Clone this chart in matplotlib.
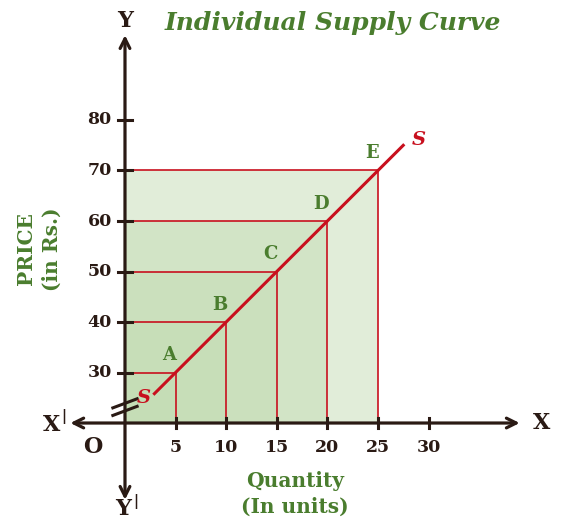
import matplotlib
matplotlib.use("Agg")
import matplotlib.pyplot as plt

# ---- data ----
points = ["A", "B", "C", "D", "E"]
quantity = [5, 10, 15, 20, 25]
price = [30, 40, 50, 60, 70]
supply_q = [2.8, 5, 10, 15, 20, 25, 27.6]
supply_p = [25.6, 30, 40, 50, 60, 70, 75.2]
x_ticks = [5, 10, 15, 20, 25, 30]
y_ticks = [30, 40, 50, 60, 70, 80]
y_origin = 20

GREEN = "#4a7d2e"
RED = "#c8101e"
DARK = "#2a1a14"
FILL = "#c5ddb5"
SERIF = "DejaVu Serif"

fig = plt.figure(figsize=(5.62, 5.32), dpi=100)
ax = fig.add_axes([0, 0, 1, 1])
ax.set_xlim(-12.35, 43.18)
ax.set_ylim(-1.58, 103.76)
ax.axis("off")

# shaded rectangles
for q, p in zip(quantity, price):
    ax.fill_between([0, q], y_origin, p, color=FILL, alpha=0.5, lw=0, zorder=1)

# guide lines
for q, p in zip(quantity, price):
    ax.plot([0, q], [p, p], color=RED, lw=1.2, zorder=2)
    ax.plot([q, q], [y_origin, p], color=RED, lw=1.2, zorder=2)

# supply line
ax.plot(supply_q, supply_p, color=RED, lw=2.2, zorder=3, solid_capstyle="butt")

# axes with arrows
aprops = dict(arrowstyle="->,head_length=0.7,head_width=0.35", lw=2.3, color=DARK,
              shrinkA=0, shrinkB=0)
ax.annotate("", xy=(39.0, y_origin), xytext=(0, y_origin), arrowprops=aprops, zorder=4)
ax.annotate("", xy=(-5.4, y_origin), xytext=(0, y_origin), arrowprops=aprops, zorder=4)
ax.annotate("", xy=(0, 96.8), xytext=(0, y_origin), arrowprops=aprops, zorder=4)
ax.annotate("", xy=(0, 4.8), xytext=(0, y_origin), arrowprops=aprops, zorder=4)

# ticks
for t in x_ticks:
    ax.plot([t, t], [y_origin - 1.0, y_origin + 1.0], color=DARK, lw=2.2, zorder=4)
    ax.text(t, y_origin - 4.8, str(t), ha="center", va="center", fontsize=12.5,
            fontweight="bold", family=SERIF, color=DARK)
for t in y_ticks:
    ax.plot([-0.7, 0.7], [t, t], color=DARK, lw=2.2, zorder=4)
    ax.text(-1.3, t, str(t), ha="right", va="center", fontsize=12.5,
            fontweight="bold", family=SERIF, color=DARK)

# axis break marks
for dy in [0, 1.5]:
    ax.plot([-1.2, 1.2], [y_origin + 2.4 + dy - 0.9, y_origin + 2.4 + dy + 0.9],
            color=DARK, lw=2.2, zorder=5)

# axis letters
lkw = dict(fontsize=16, fontweight="bold", family=SERIF, color=DARK, va="center")
ax.text(0, 99.6, "Y", ha="center", **lkw)
ax.text(-0.2, 3.0, "Y", ha="center", **lkw)
ax.text(1.1, 4.4, "|", ha="center", fontsize=10, fontweight="bold", family=SERIF, color=DARK, va="center")
ax.text(41.2, y_origin, "X", ha="center", **lkw)
ax.text(-7.3, y_origin - 0.4, "X", ha="center", **lkw)
ax.text(-6.1, y_origin + 1.2, "|", ha="center", fontsize=10, fontweight="bold", family=SERIF, color=DARK, va="center")
ax.text(-3.2, y_origin - 4.8, "O", ha="center", **lkw)

# point labels
for q, p, name in zip(quantity, price, points):
    ax.text(q - 0.6, p + 3.4, name, ha="center", va="center", fontsize=13,
            fontweight="bold", family=SERIF, color=GREEN, zorder=6)

# S labels
skw = dict(fontsize=14, fontweight="bold", style="italic", family=SERIF, color=RED,
           ha="center", va="center", zorder=6)
ax.text(1.9, 25.0, "S", **skw)
ax.text(29.0, 76.0, "S", **skw)

# title
ax.text(20.5, 99.2, "Individual Supply Curve", ha="center", va="center", fontsize=18,
        fontweight="bold", style="italic", family=SERIF, color=GREEN)

# axis titles
ax.text(16.8, 5.9, "Quantity\n(In units)", ha="center", va="center", fontsize=14.5,
        fontweight="bold", family=SERIF, color=GREEN, linespacing=1.35)
ax.text(-8.5, 54.5, "PRICE\n(in Rs.)", ha="center", va="center", fontsize=14.5,
        fontweight="bold", family=SERIF, color=GREEN, rotation=90, linespacing=1.4)

fig.savefig("out.png", dpi=100)
